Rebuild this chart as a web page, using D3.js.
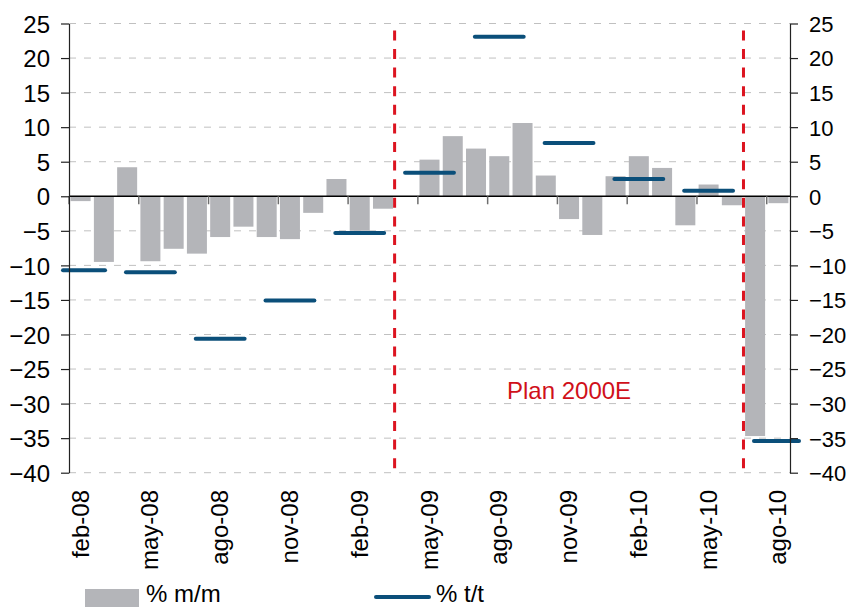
<!DOCTYPE html>
<html lang="es">
<head>
  <meta charset="UTF-8">
  <title>Plan 2000E</title>
  <script src="https://d3js.org/d3.v7.min.js"></script>
  <style>
    body { margin: 0; background: #fff; }
    text { font-family: "Liberation Sans", Arial, sans-serif; font-size: 24px; fill: #000; }
    .grid line { stroke: #c0c0c0; stroke-width: 1; stroke-dasharray: 7,8; }
    .yr text { font-size: 22px; }
  </style>
</head>
<body>
  <svg width="848" height="609"></svg>

  <script>
    // months feb-08 .. ago-10
    const months = [
      "feb-08","mar-08","abr-08","may-08","jun-08","jul-08","ago-08","sep-08","oct-08","nov-08","dic-08",
      "ene-09","feb-09","mar-09","abr-09","may-09","jun-09","jul-09","ago-09","sep-09","oct-09","nov-09","dic-09",
      "ene-10","feb-10","mar-10","abr-10","may-10","jun-10","jul-10","ago-10"
    ];
    // % m/m (monthly bars), abr-09 has no value
    const mm = [
      -0.7, -9.5, 4.2, -9.4, -7.6, -8.3, -5.9, -4.4, -5.9, -6.2, -2.4,
      2.5, -5.0, -1.8, null, 5.3, 8.7, 6.9, 5.8, 10.6, 3.0, -3.3, -5.6,
      2.9, 5.8, 4.1, -4.2, 1.7, -1.3, -34.7, -1.0
    ];
    // % t/t (quarterly)
    const quarters = ["feb-08","may-08","ago-08","nov-08","feb-09","may-09","ago-09","nov-09","feb-10","may-10","ago-10"];
    const tt = [-10.7, -11.0, -20.6, -15.1, -5.3, 3.4, 23.1, 7.7, 2.5, 0.8, -35.4];
    // x tick labels (every 3 months)
    const tickLabels = ["feb-08","may-08","ago-08","nov-08","feb-09","may-09","ago-09","nov-09","feb-10","may-10","ago-10"];
    const yTicks = d3.range(-40, 26, 5);
    // plan start markers
    const planMonths = ["abr-09", "jul-10"];

    const svg = d3.select("svg");
    const pLeft = 69, pRight = 790, pTop = 23.5, pBottom = 472.7;

    const x = d3.scaleBand().domain(months).range([pLeft, pRight])
      .paddingInner(0.14).paddingOuter(0.07);
    const y = d3.scaleLinear().domain([-40, 25]).range([pBottom, pTop]);
    const half = x.step() * x.paddingInner() / 2;
    const boundary = m => x(m) - half;

    // gridlines
    svg.append("g").attr("class", "grid")
      .selectAll("line").data(yTicks.filter(d => d !== 0)).enter().append("line")
      .attr("x1", pLeft).attr("x2", pRight)
      .attr("y1", d => y(d)).attr("y2", d => y(d));

    // bars
    const barData = months.map((m, i) => ({ m, v: mm[i] })).filter(d => d.v !== null);
    svg.append("g").selectAll("rect").data(barData).enter().append("rect")
      .attr("x", d => x(d.m))
      .attr("width", x.bandwidth())
      .attr("y", d => y(Math.max(0, d.v)))
      .attr("height", d => Math.abs(y(d.v) - y(0)))
      .attr("fill", "#b4b5b9");

    // zero line and category ticks
    svg.append("line")
      .attr("x1", pLeft).attr("x2", pRight)
      .attr("y1", y(0)).attr("y2", y(0))
      .attr("stroke", "#000").attr("stroke-width", 1.5);
    svg.append("g").selectAll("line").data(tickLabels).enter().append("line")
      .attr("x1", d => boundary(d)).attr("x2", d => boundary(d))
      .attr("y1", y(0)).attr("y2", y(0) + 8)
      .attr("stroke", "#6e6e6e").attr("stroke-width", 1.5);

    // red dashed plan lines
    svg.append("g").selectAll("line").data(planMonths).enter().append("line")
      .attr("x1", d => boundary(d)).attr("x2", d => boundary(d))
      .attr("y1", y(24)).attr("y2", y(-39.7))
      .attr("stroke", "#dc1420").attr("stroke-width", 3)
      .attr("stroke-dasharray", "10,8.6");

    svg.append("text")
      .attr("x", x("nov-09") + x.bandwidth() / 2)
      .attr("y", y(-29.3))
      .attr("text-anchor", "middle")
      .style("fill", "#d0101a")
      .text("Plan 2000E");

    // quarterly segments
    const segW = x.step() * 2.1;
    svg.append("g").selectAll("line").data(quarters.map((q, i) => ({ q, v: tt[i] }))).enter().append("line")
      .attr("x1", d => Math.max(63, x(d.q) + x.bandwidth() / 2 - segW / 2))
      .attr("x2", d => Math.min(799, x(d.q) + x.bandwidth() / 2 + segW / 2))
      .attr("y1", d => y(d.v)).attr("y2", d => y(d.v))
      .attr("stroke", "#0b4f7a").attr("stroke-width", 4)
      .attr("stroke-linecap", "round");

    // y axes
    const yl = svg.append("g").attr("transform", `translate(${pLeft},0)`)
      .call(d3.axisLeft(y).tickValues(yTicks).tickSize(8).tickSizeOuter(0).tickPadding(11));
    const yr = svg.append("g").attr("class", "yr").attr("transform", `translate(${pRight},0)`)
      .call(d3.axisRight(y).tickValues(yTicks).tickSize(8).tickSizeOuter(0).tickPadding(11));
    [yl, yr].forEach(g => {
      g.attr("font-size", null).attr("font-family", null);
      g.selectAll("text").attr("dy", "0.36em");
      g.selectAll("path, line").attr("stroke", "#222").attr("stroke-width", 1.2);
    });

    // x labels (rotated)
    svg.append("g").selectAll("text").data(tickLabels).enter().append("text")
      .attr("transform", d => `translate(${x(d) + x.bandwidth() / 2 + 8},490) rotate(-90)`)
      .attr("text-anchor", "end")
      .text(d => d);

    // legend
    svg.append("rect").attr("x", 85).attr("y", 589).attr("width", 54).attr("height", 18).attr("fill", "#b4b5b9");
    svg.append("text").attr("x", 146).attr("y", 602).text("% m/m");
    svg.append("line").attr("x1", 376).attr("x2", 429).attr("y1", 597).attr("y2", 597)
      .attr("stroke", "#0b4f7a").attr("stroke-width", 4).attr("stroke-linecap", "round");
    svg.append("text").attr("x", 436).attr("y", 602).text("% t/t");
  </script>
</body>
</html>
